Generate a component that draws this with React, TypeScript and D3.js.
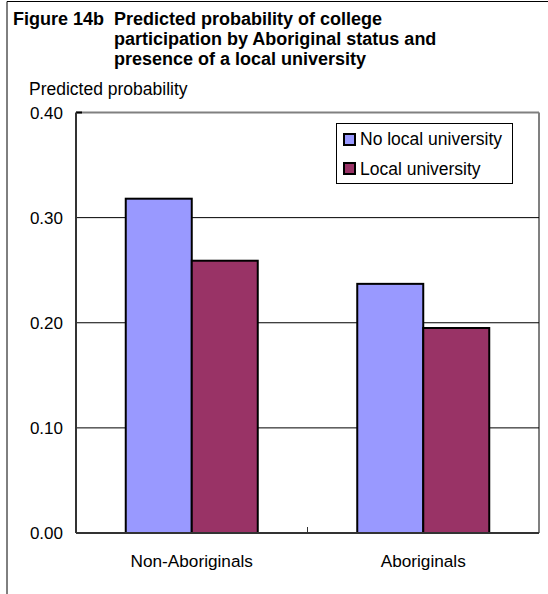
import React from "react";
import * as d3 from "d3";

const categories = ["Non-Aboriginals", "Aboriginals"];
const seriesNames = ["No local university", "Local university"];
const noLocalUniversity = [0.318, 0.237];
const localUniversity = [0.259, 0.195];
const yTicks = [0, 0.1, 0.2, 0.3, 0.4];
const titleLines = [
  "Figure 14b  Predicted probability of college",
  "participation by Aboriginal status and",
  "presence of a local university",
];
const yAxisTitle = "Predicted probability";
const colors = ["#9999FF", "#993366"];

export default function App() {
  const W = 548, H = 594;
  const left = 76, right = 539, top = 112.5, bottom = 533;
  const font = "Arial, 'Liberation Sans', sans-serif";
  const y = d3.scaleLinear().domain([0, 0.4]).range([bottom, top]);
  const x0 = d3.scaleBand().domain(categories).range([left, right]).paddingInner(0).paddingOuter(0);
  const groupW = 132;
  const x1 = d3.scaleBand().domain(seriesNames).range([0, groupW]);
  const series = [noLocalUniversity, localUniversity];
  const boundaries = [left + x0.bandwidth()];

  return (
    <svg width={W} height={H} style={{ position: "absolute", left: 0, top: 0, background: "#fff" }}>
      <rect x={0} y={0} width={W} height={H} fill="#fff" />
      {/* outer frame */}
      <line x1={7} y1={1.5} x2={W} y2={1.5} stroke="#000" strokeWidth={1} />
      <line x1={7} y1={1.5} x2={7} y2={H} stroke="#000" strokeWidth={1} />
      {/* title */}
      <text x={13} y={25} fontFamily={font} fontWeight="bold" fontSize={18} fill="#000" style={{ whiteSpace: "pre" }}>{titleLines[0]}</text>
      <text x={114} y={45} fontFamily={font} fontWeight="bold" fontSize={18} fill="#000">{titleLines[1]}</text>
      <text x={114} y={65} fontFamily={font} fontWeight="bold" fontSize={18} fill="#000">{titleLines[2]}</text>
      <text x={29} y={95} fontFamily={font} fontSize={17.5} fill="#000">{yAxisTitle}</text>
      {/* plot border top/right */}
      <line x1={left} y1={top} x2={right} y2={top} stroke="#808080" strokeWidth={2} />
      <line x1={right} y1={top} x2={right} y2={bottom} stroke="#808080" strokeWidth={2} />
      {/* gridlines */}
      {yTicks.filter(t => t > 0 && t < 0.4).map(t => (
        <line key={t} x1={left} x2={right} y1={y(t)} y2={y(t)} stroke="#000" strokeWidth={1} />
      ))}
      {/* y tick at top */}
      <line x1={left} x2={left + 6} y1={top} y2={top} stroke="#000" strokeWidth={2} />
      {/* bars */}
      {categories.map((c, i) => {
        const gx = (x0(c) as number) + x0.bandwidth() / 2 - groupW / 2;
        return series.map((s, j) => (
          <rect key={c + j} x={gx + (x1(seriesNames[j]) as number)} y={y(s[i])}
            width={x1.bandwidth()} height={bottom - y(s[i])}
            fill={colors[j]} stroke="#000" strokeWidth={2} />
        ));
      })}
      {/* axes */}
      <line x1={left} y1={top} x2={left} y2={bottom} stroke="#333" strokeWidth={2} />
      <line x1={left} y1={bottom} x2={right} y2={bottom} stroke="#333" strokeWidth={2} />
      {boundaries.map((bx, i) => (
        <line key={i} x1={bx} x2={bx} y1={bottom} y2={bottom - 6} stroke="#333" strokeWidth={1} />
      ))}
      {/* y tick labels */}
      {yTicks.map(t => (
        <text key={t} x={63} y={y(t)} dy="0.36em" textAnchor="end" fontFamily={font} fontSize={17} fill="#000">
          {d3.format(".2f")(t)}
        </text>
      ))}
      {/* category labels */}
      {categories.map(c => (
        <text key={c} x={(x0(c) as number) + x0.bandwidth() / 2} y={567} textAnchor="middle"
          fontFamily={font} fontSize={17.2} fill="#000">{c}</text>
      ))}
      {/* legend */}
      <rect x={336.5} y={123.5} width={176} height={60} fill="#fff" stroke="#000" strokeWidth={1} />
      {seriesNames.map((n, j) => (
        <g key={n}>
          <rect x={344} y={134 + j * 29} width={11} height={11} fill={colors[j]} stroke="#000" strokeWidth={2} />
          <text x={360} y={145 + j * 29.5} fontFamily={font} fontSize={17.5} fill="#000">{n}</text>
        </g>
      ))}
    </svg>
  );
}
